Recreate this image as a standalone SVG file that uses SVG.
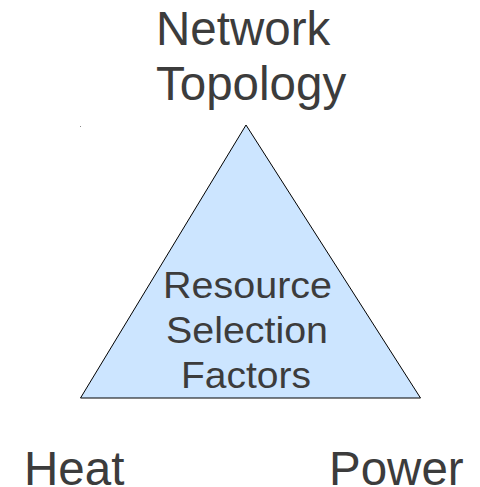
<svg xmlns="http://www.w3.org/2000/svg" width="480" height="487" viewBox="0 0 480 487">
  <style>
    .lbl { font-family: "Liberation Sans", Arial, sans-serif; font-size: 47.5px; fill: #3c3c3c; }
    .inner { font-family: "Liberation Sans", Arial, sans-serif; font-size: 36px; fill: #3c3c3c; text-anchor: middle; }
    .tri { fill: #cce5ff; stroke: #000000; stroke-width: 1; stroke-linejoin: miter; }
  </style>
  <rect width="480" height="487" fill="#ffffff"/>
  <rect x="80" y="126" width="1" height="1" fill="#8a8a8a"/>

  <g id="factors">
    <polygon class="tri" points="246,125 80.5,398 420.5,398"/>
    <text class="inner" x="247.5" y="298" textLength="169" lengthAdjust="spacingAndGlyphs">Resource</text>
    <text class="inner" x="247" y="343" textLength="162" lengthAdjust="spacingAndGlyphs">Selection</text>
    <text class="inner" x="246" y="388" textLength="130" lengthAdjust="spacingAndGlyphs">Factors</text>
  </g>

  <g id="network-topology">
    <text class="lbl" x="156" y="45">Network</text>
    <text class="lbl" x="156" y="99.5">Topology</text>
  </g>

  <g id="heat">
    <text class="lbl" x="24" y="484.5">Heat</text>
  </g>

  <g id="power">
    <text class="lbl" x="329" y="484.5">Power</text>
  </g>

  <g id="connectors"></g>
</svg>
